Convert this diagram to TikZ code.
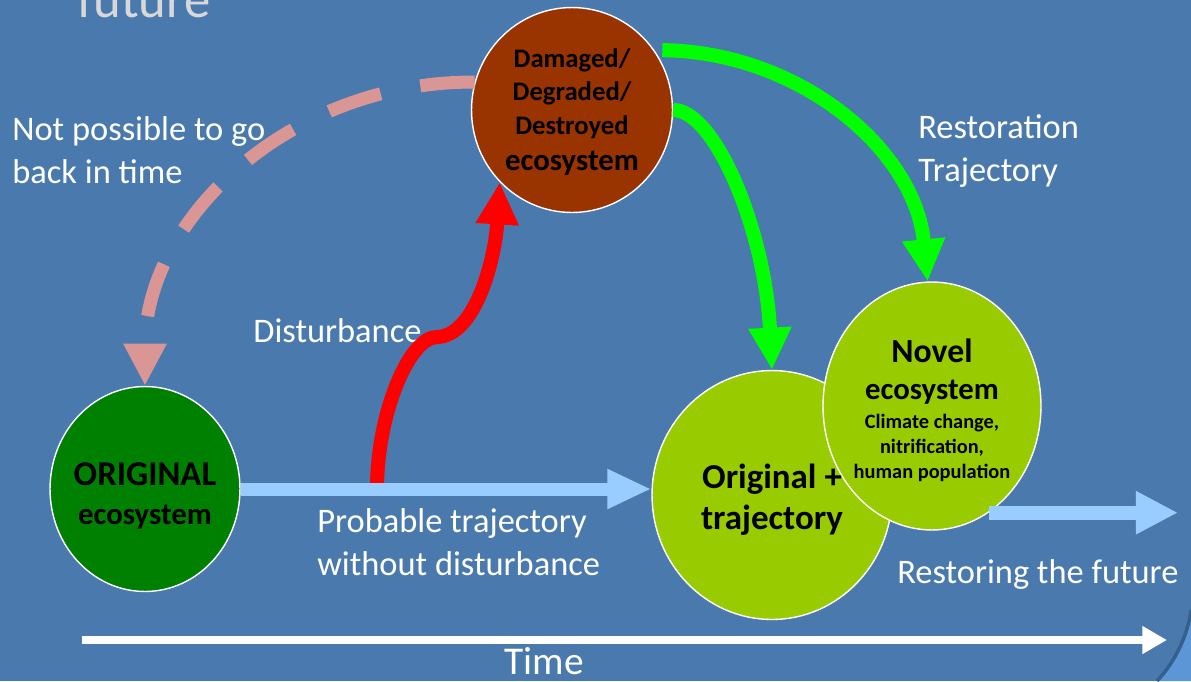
\documentclass[tikz,border=0pt]{standalone}
\usepackage{fontspec}
\setmainfont{Carlito}
\usetikzlibrary{shapes.geometric,arrows.meta,positioning}

\definecolor{slideblue}{RGB}{74,122,173}
\definecolor{cornerblue}{RGB}{92,150,215}
\definecolor{cornershade}{RGB}{55,95,140}
\definecolor{titlegray}{RGB}{216,216,216}
\definecolor{oldgreen}{RGB}{0,128,0}
\definecolor{damagedbrown}{RGB}{153,51,0}
\definecolor{novelgreen}{RGB}{153,204,0}
\definecolor{skyblue}{RGB}{153,204,255}
\definecolor{brightgreen}{RGB}{0,255,0}
\definecolor{pastpink}{RGB}{217,150,148}

\begin{document}
\begin{tikzpicture}[x=0.02cm, y=-0.02cm,
    eco/.style={ellipse, draw=white, line width=0.8pt, inner sep=0pt},
    ecotext/.style={inner sep=0pt, align=center, text=black},
    txt/.style={text=white, inner sep=0pt, align=left, font=\fontsize{19.6}{24.4}\selectfont},
    flow/.style={line width=8pt, -{Triangle[length=24pt, width=23pt]}}]

    % Background
    \useasboundingbox (0,0) rectangle (1191,681);
    \fill [slideblue] (0,0) rectangle (1191,681);
    \fill [cornerblue] (1191,610) .. controls (1188,635) and (1175,662) .. (1157,681) -- (1191,681) -- cycle;
    \draw [cornershade, line width=2pt] (1191,610) .. controls (1188,635) and (1175,662) .. (1157,681);

    % Title (cut by the top edge)
    \node [anchor=base west, inner sep=0pt, text=titlegray, font=\fontsize{30}{36}\selectfont] (title) at (77,17) {future};

    % Ecosystems
    \node [eco, fill=oldgreen, minimum width=3.8cm, minimum height=4.1cm] (original) at (145,489) {};
    \node [eco, fill=damagedbrown, minimum width=4.02cm, minimum height=4.1cm] (damaged) at (572,110) {};
    \node [eco, fill=novelgreen, minimum width=4.8cm, minimum height=4.98cm] (trajplus) at (772,495) {};
    \node [eco, fill=novelgreen, minimum width=4.36cm, minimum height=4.96cm] (novel) at (932,406) {};

    \node [ecotext, yshift=-4pt, font=\bfseries\fontsize{19.8}{22.7}\selectfont] (originaltxt) at (original) {ORIGINAL\\\fontsize{17.5}{21}\selectfont ecosystem};
    \node [ecotext, yshift=-1pt, font=\bfseries\fontsize{15.2}{19}\selectfont] (damagedtxt) at (damaged) {Damaged/\\Degraded/\\Destroyed\\[1.4pt]\fontsize{17.5}{21}\selectfont ecosystem};
    \node [ecotext, yshift=-2.6pt, font=\bfseries\fontsize{19.9}{23.2}\selectfont] (trajplustxt) at (trajplus) {Original +\\trajectory};
    \node [ecotext, yshift=-2.4pt, font=\bfseries\fontsize{11.6}{14.2}\selectfont] (noveltxt) at (novel) {\fontsize{19.2}{21}\selectfont Novel\\[7.3pt]\fontsize{17.5}{21}\selectfont ecosystem\\[2.2pt]Climate change,\\nitrification,\\human population};

    % Labels (base = last line)
    \node [txt, anchor=base west] (noreturn) at (12,183) {Not possible to go\\back in time};
    \node [txt, anchor=base west] (disturb) at (253,342) {Disturbance};
    \node [txt, anchor=base west] (restlabel) at (918,181) {Restoration\\Trajectory};
    \node [txt, anchor=base west] (probable) at (317,575) {Probable trajectory\\without disturbance};
    \node [txt, anchor=base west] (restfuture) at (897,583) {Restoring the future};
    \node [txt, anchor=base, font=\fontsize{22.4}{27}\selectfont] (timelabel) at (544,674) {Time};

    % Time axis
    \coordinate (t0) at (82,640);
    \coordinate (t1) at (1167,640);
    \draw [white, line width=5pt, -{Triangle[length=14pt, width=15pt]}] (t0) -- (t1);

    % Trajectories
    \coordinate (hit) at (377,486);
    \draw [flow, red] (hit) .. controls (378,410) and (410,337) .. (437,337) .. controls (475,336) and (495,260) .. (damaged.225);
    \draw [flow, skyblue, line width=7.4pt, -{Triangle[length=25pt, width=21pt]}] (original.east) -- (original.east -| trajplus.west);
    \draw [flow, brightgreen] ([xshift=4.5pt]damaged.36) .. controls (800,52) and (915,150) .. (novel.92);
    \draw [flow, brightgreen] (damaged.east) .. controls (715,110) and (765,230) .. (trajplus.north);
    \draw [flow, pastpink, line width=7.4pt, dash pattern=on 31pt off 23pt] (damaged.164) .. controls (291,81) and (145,218) .. (original.north);

    \coordinate (ahead) at (1178,514);
    \draw [flow, skyblue] (novel.-62) -- (novel.-62 -| ahead);

\end{tikzpicture}
\end{document}
